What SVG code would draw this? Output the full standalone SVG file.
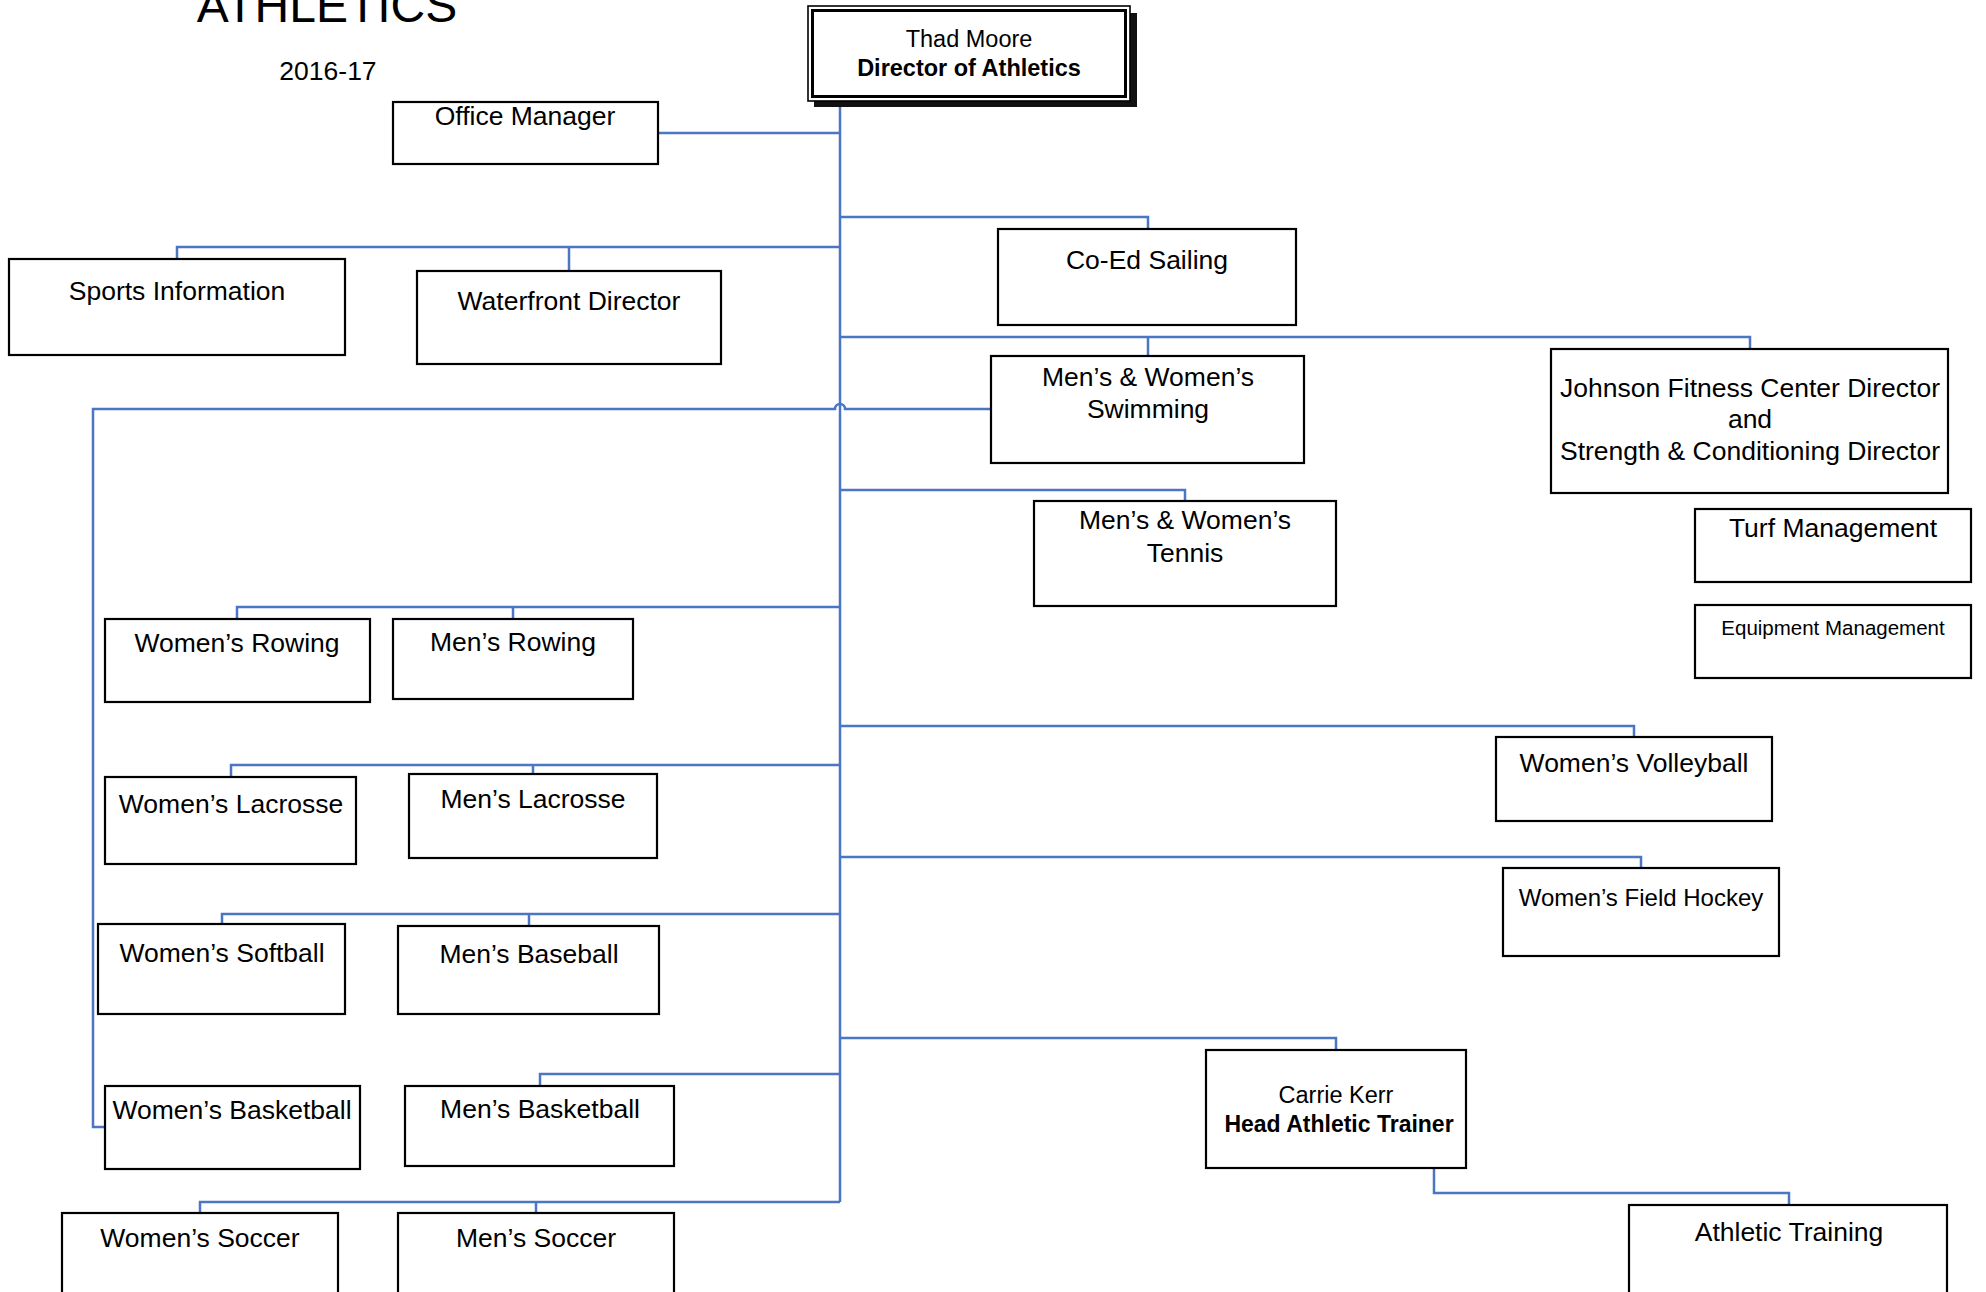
<svg xmlns="http://www.w3.org/2000/svg" width="1986" height="1292" viewBox="0 0 1986 1292">
<style>
.bx{fill:#fff;stroke:#000;stroke-width:2.2}
.t{font-family:"Liberation Sans",Arial,sans-serif;font-size:26.5px;fill:#000;text-anchor:middle}
.b{font-weight:bold}
.c{fill:none;stroke:#4a76c4;stroke-width:2.5}
</style>
<rect width="1986" height="1292" fill="#fff"/>
<text x="327" y="22" class="t" style="font-size:48px">ATHLETICS</text>
<text x="328" y="80" class="t">2016-17</text>

<g id="connectors">
<path class="c" d="M840 101 V1202"/>
<path class="c" d="M658 133 H840"/>
<path class="c" d="M840 217 H1148 V229"/>
<path class="c" d="M177 259 V247 H840 M569 247 V271"/>
<path class="c" d="M840 337 H1750 V349 M1148 337 V356"/>
<path class="c" d="M991 409 H845 A5 5 0 0 0 835 409 H93 V1127 H105"/>
<path class="c" d="M840 490 H1185 V501"/>
<path class="c" d="M237 619 V607 H840 M513 607 V619"/>
<path class="c" d="M840 726 H1634 V737"/>
<path class="c" d="M231 777 V765 H840 M533 765 V774"/>
<path class="c" d="M840 857 H1641 V868"/>
<path class="c" d="M222 924 V914 H840 M529 914 V926"/>
<path class="c" d="M840 1038 H1336 V1050"/>
<path class="c" d="M540 1086 V1074 H840"/>
<path class="c" d="M200 1213 V1202 H840 M536 1202 V1213"/>
<path class="c" d="M1434 1168 V1193 H1789 V1205"/>
</g>

<g id="director">
<rect x="814" y="13" width="323" height="94" fill="#111"/>
<rect x="808" y="6" width="322" height="95" fill="#fff" stroke="#000" stroke-width="1.6"/>
<rect x="812.5" y="10.5" width="313" height="86" fill="none" stroke="#000" stroke-width="3"/>
<text x="969" y="47" class="t" style="font-size:23.5px">Thad Moore</text>
<text x="969" y="76" class="t b" style="font-size:23.5px">Director of Athletics</text>
</g>
<g id="office-manager"><rect class="bx" x="393" y="102" width="265" height="62"/><text x="525" y="125" class="t">Office Manager</text></g>
<g id="sports-information"><rect class="bx" x="9" y="259" width="336" height="96"/><text x="177" y="300" class="t">Sports Information</text></g>
<g id="waterfront-director"><rect class="bx" x="417" y="271" width="304" height="93"/><text x="569" y="310" class="t">Waterfront Director</text></g>
<g id="coed-sailing"><rect class="bx" x="998" y="229" width="298" height="96"/><text x="1147" y="269" class="t">Co-Ed Sailing</text></g>
<g id="swimming"><rect class="bx" x="991" y="356" width="313" height="107"/><text x="1148" y="386" class="t">Men’s &amp; Women’s</text><text x="1148" y="418" class="t">Swimming</text></g>
<g id="johnson"><rect class="bx" x="1551" y="349" width="397" height="144"/><text x="1750" y="397" class="t">Johnson Fitness Center Director</text><text x="1750" y="428" class="t">and</text><text x="1750" y="460" class="t">Strength &amp; Conditioning Director</text></g>
<g id="turf-management"><rect class="bx" x="1695" y="509" width="276" height="73"/><text x="1833" y="537" class="t">Turf Management</text></g>
<g id="equipment-management"><rect class="bx" x="1695" y="605" width="276" height="73"/><text x="1833" y="635" class="t" style="font-size:20.5px">Equipment Management</text></g>
<g id="tennis"><rect class="bx" x="1034" y="501" width="302" height="105"/><text x="1185" y="529" class="t">Men’s &amp; Women’s</text><text x="1185" y="562" class="t">Tennis</text></g>
<g id="womens-rowing"><rect class="bx" x="105" y="619" width="265" height="83"/><text x="237" y="652" class="t">Women’s Rowing</text></g>
<g id="mens-rowing"><rect class="bx" x="393" y="619" width="240" height="80"/><text x="513" y="651" class="t">Men’s Rowing</text></g>
<g id="womens-lacrosse"><rect class="bx" x="105" y="777" width="251" height="87"/><text x="231" y="813" class="t">Women’s Lacrosse</text></g>
<g id="mens-lacrosse"><rect class="bx" x="409" y="774" width="248" height="84"/><text x="533" y="808" class="t">Men’s Lacrosse</text></g>
<g id="womens-volleyball"><rect class="bx" x="1496" y="737" width="276" height="84"/><text x="1634" y="772" class="t">Women’s Volleyball</text></g>
<g id="womens-field-hockey"><rect class="bx" x="1503" y="868" width="276" height="88"/><text x="1641" y="906" class="t" style="font-size:24px">Women’s Field Hockey</text></g>
<g id="womens-softball"><rect class="bx" x="98" y="924" width="247" height="90"/><text x="222" y="962" class="t">Women’s Softball</text></g>
<g id="mens-baseball"><rect class="bx" x="398" y="926" width="261" height="88"/><text x="529" y="963" class="t">Men’s Baseball</text></g>
<g id="womens-basketball"><rect class="bx" x="105" y="1086" width="255" height="83"/><text x="232" y="1119" class="t">Women’s Basketball</text></g>
<g id="mens-basketball"><rect class="bx" x="405" y="1086" width="269" height="80"/><text x="540" y="1118" class="t">Men’s Basketball</text></g>
<g id="womens-soccer"><rect class="bx" x="62" y="1213" width="276" height="100"/><text x="200" y="1247" class="t">Women’s Soccer</text></g>
<g id="mens-soccer"><rect class="bx" x="398" y="1213" width="276" height="100"/><text x="536" y="1247" class="t">Men’s Soccer</text></g>
<g id="carrie-kerr"><rect class="bx" x="1206" y="1050" width="260" height="118"/><text x="1336" y="1103" class="t" style="font-size:23.5px">Carrie Kerr</text><text x="1339" y="1132" class="t b" style="font-size:23px">Head Athletic Trainer</text></g>
<g id="athletic-training"><rect class="bx" x="1629" y="1205" width="318" height="110"/><text x="1789" y="1241" class="t">Athletic Training</text></g>
</svg>
